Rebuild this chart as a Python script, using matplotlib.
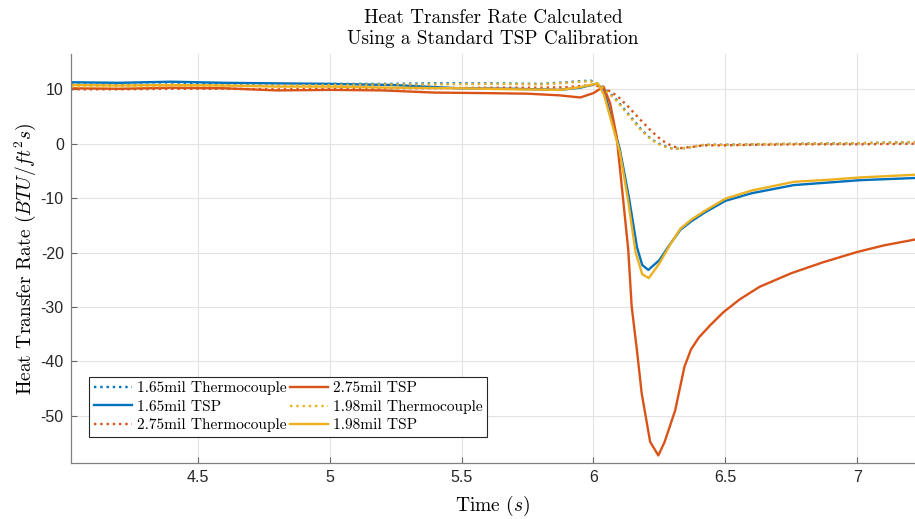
import matplotlib
matplotlib.use('Agg')
import matplotlib.pyplot as plt

plt.rcParams['mathtext.fontset'] = 'cm'
plt.rcParams['axes.unicode_minus'] = False

# 1.65mil thermocouple
t_tc165 = [4.02, 4.2, 4.4, 4.6, 4.8, 5.0, 5.2, 5.4, 5.6, 5.8, 5.9, 5.95, 5.99, 6.03, 6.08, 6.13, 6.18, 6.22, 6.26, 6.3, 6.33, 6.37, 6.42, 6.5, 6.6, 6.8, 7.0, 7.22]
v_tc165 = [10.9, 10.8, 10.9, 11.0, 10.9, 11.0, 11.0, 11.1, 11.1, 11.0, 11.3, 11.5, 11.6, 10.6, 8.5, 5.6, 2.7, 0.8, -0.3, -0.9, -0.9, -0.6, -0.2, -0.2, -0.1, 0.0, 0.1, 0.3]

# 1.65mil TSP
t_tsp165 = [4.02, 4.2, 4.4, 4.6, 4.8, 5.0, 5.24, 5.49, 5.7, 5.87, 5.95, 6.01, 6.04, 6.066, 6.1, 6.135, 6.165, 6.185, 6.208, 6.25, 6.29, 6.33, 6.37, 6.42, 6.5, 6.6, 6.76, 6.9, 7.01, 7.22]
v_tsp165 = [11.3, 11.2, 11.4, 11.2, 11.1, 11.0, 10.8, 10.2, 10.1, 9.9, 10.3, 11.0, 10.0, 5.0, -1.0, -10.0, -19.0, -22.3, -23.2, -21.4, -18.5, -15.8, -14.3, -12.7, -10.5, -9.1, -7.6, -7.1, -6.7, -6.3]

# 2.75mil thermocouple
t_tc275 = [4.02, 4.2, 4.4, 4.6, 4.8, 5.0, 5.2, 5.4, 5.6, 5.8, 5.9, 5.95, 6.0, 6.04, 6.09, 6.13, 6.18, 6.22, 6.26, 6.3, 6.33, 6.37, 6.42, 6.5, 6.6, 6.8, 7.0, 7.22]
v_tc275 = [10.0, 10.0, 10.1, 10.1, 10.0, 10.1, 10.2, 10.2, 10.3, 10.3, 10.4, 10.6, 10.8, 10.3, 8.8, 6.9, 4.3, 2.3, 0.6, -0.5, -0.8, -0.6, -0.3, -0.3, -0.2, -0.1, -0.1, 0.0]

# 2.75mil TSP
t_tsp275 = [4.02, 4.2, 4.4, 4.6, 4.8, 5.0, 5.2, 5.4, 5.6, 5.75, 5.87, 5.95, 6.0, 6.038, 6.063, 6.088, 6.11, 6.132, 6.145, 6.165, 6.183, 6.215, 6.246, 6.27, 6.31, 6.345, 6.37, 6.4, 6.442, 6.492, 6.555, 6.63, 6.75, 6.87, 7.0, 7.1, 7.22]
v_tsp275 = [10.2, 10.1, 10.3, 10.2, 9.8, 9.9, 9.8, 9.4, 9.3, 9.2, 8.9, 8.5, 9.3, 10.5, 7.5, 1.3, -9.0, -19.5, -29.9, -38.0, -45.9, -54.8, -57.3, -54.8, -49.0, -41.0, -37.8, -35.6, -33.4, -31.0, -28.6, -26.3, -23.8, -21.8, -19.9, -18.7, -17.6]

# 1.98mil thermocouple
t_tc198 = [4.02, 4.2, 4.4, 4.6, 4.8, 5.0, 5.2, 5.4, 5.6, 5.8, 5.9, 5.95, 5.99, 6.03, 6.08, 6.13, 6.18, 6.22, 6.26, 6.3, 6.33, 6.37, 6.42, 6.5, 6.6, 6.8, 7.0, 7.22]
v_tc198 = [10.5, 10.5, 10.6, 10.7, 10.7, 10.8, 10.9, 10.9, 11.0, 10.9, 11.2, 11.4, 11.5, 10.5, 8.3, 5.4, 2.5, 0.7, -0.4, -0.9, -0.9, -0.6, -0.2, -0.2, -0.1, 0.0, 0.1, 0.3]

# 1.98mil TSP
t_tsp198 = [4.02, 4.2, 4.4, 4.6, 4.8, 5.0, 5.24, 5.49, 5.7, 5.875, 5.95, 6.017, 6.04, 6.063, 6.1, 6.13, 6.16, 6.185, 6.21, 6.25, 6.29, 6.33, 6.37, 6.42, 6.5, 6.6, 6.76, 6.9, 7.01, 7.22]
v_tsp198 = [10.8, 10.7, 10.8, 10.7, 10.5, 10.5, 10.3, 10.2, 10.0, 9.9, 10.4, 11.1, 9.0, 5.0, -1.5, -10.0, -20.0, -24.0, -24.7, -22.0, -18.6, -15.6, -14.0, -12.4, -10.1, -8.6, -7.0, -6.6, -6.2, -5.7]

blue = '#0072BD'
orange = '#D95319'
yellow = '#EDB120'

fig = plt.figure(figsize=(9.15, 5.19), dpi=100)
ax = fig.add_axes([0.0773, 0.1073, 0.9227, 0.7887])

lw = 1.7
ax.plot(t_tc165, v_tc165, ':', color=blue, lw=lw, label='1.65mil Thermocouple')
ax.plot(t_tsp165, v_tsp165, '-', color=blue, lw=lw, label='1.65mil TSP')
ax.plot(t_tc275, v_tc275, ':', color=orange, lw=lw, label='2.75mil Thermocouple')
ax.plot(t_tsp275, v_tsp275, '-', color=orange, lw=lw, label='2.75mil TSP')
ax.plot(t_tc198, v_tc198, ':', color=yellow, lw=lw, label='1.98mil Thermocouple')
ax.plot(t_tsp198, v_tsp198, '-', color=yellow, lw=lw, label='1.98mil TSP')

ax.set_xlim(4.0186, 7.219)
ax.set_ylim(-58.75, 16.5)
ax.set_xticks([4.5, 5, 5.5, 6, 6.5, 7])
ax.set_xticklabels(['4.5', '5', '5.5', '6', '6.5', '7'])
ax.set_yticks([-50, -40, -30, -20, -10, 0, 10])
for lab in ax.get_xticklabels() + ax.get_yticklabels():
    lab.set_fontfamily('Liberation Sans')
    lab.set_fontsize(11.5)
    lab.set_color('#262626')

ax.grid(True, color='#e3e3e3', lw=0.8)
ax.set_axisbelow(True)
ax.tick_params(direction='in', length=4, color='#666666', width=0.8, top=False, right=False, pad=5)
for s in ['top', 'right']:
    ax.spines[s].set_visible(False)
for s in ['left', 'bottom']:
    ax.spines[s].set_color('#808080')
    ax.spines[s].set_linewidth(0.9)

ax.set_title('Heat Transfer Rate Calculated\nUsing a Standard TSP Calibration',
             fontfamily='cmr10', fontsize=13.8, pad=7, linespacing=1.25)
ax.set_xlabel('Time $(s)$', fontfamily='cmr10', fontsize=14, labelpad=6)
ax.set_ylabel('Heat Transfer Rate $(BTU/ft^2s)$', fontfamily='cmr10', fontsize=14, labelpad=2)

leg = ax.legend(ncol=2, loc='lower left', bbox_to_anchor=(0.022, 0.064), borderaxespad=0,
                prop={'family': 'cmr10', 'size': 11.1}, fancybox=False, framealpha=1,
                edgecolor='#262626', handlelength=2.5, handletextpad=0.3,
                columnspacing=0.2, labelspacing=0.3, borderpad=0.3)
leg.get_frame().set_linewidth(0.8)

fig.savefig('out.png', dpi=100)
